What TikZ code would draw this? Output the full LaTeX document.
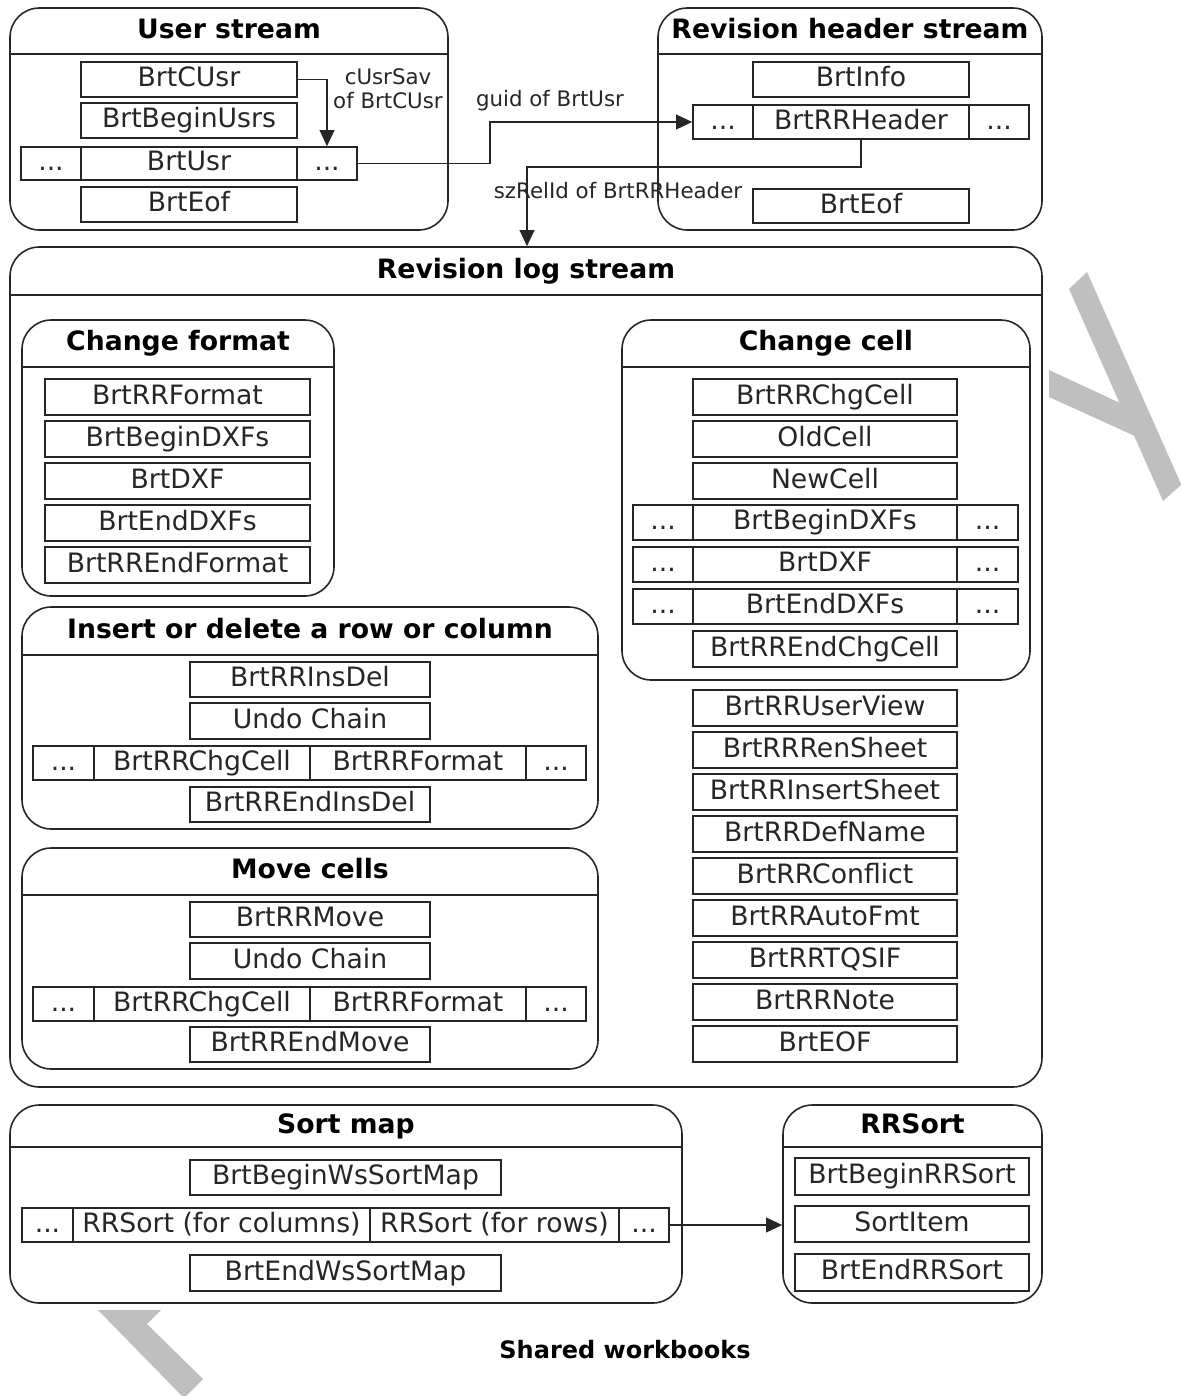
\documentclass[tikz,border=0pt]{standalone}
\usepackage{fontspec}
\setmainfont{DejaVu Sans}
\usetikzlibrary{arrows.meta}
\newcommand\mybox[6]{%
 \pgfmathsetmacro\mbw{(#4-#2)*0.75}%
 \pgfmathsetmacro\mbh{(#5-#3)*0.75}%
 \node[rec,minimum width=\mbw pt,minimum height=\mbh pt] (#1) at ({(#2+#4)/2},{(#3+#5)/2}) {#6};}
\newcommand\mycont[7]{%
 \pgfmathsetmacro\mbw{(#4-#2)*0.75}%
 \pgfmathsetmacro\mbh{(#5-#3)*0.75}%
 \node[cont,minimum width=\mbw pt,minimum height=\mbh pt] (#1) at ({(#2+#4)/2},{(#3+#5)/2}) {};
 \draw[hline] (#2,#6) -- (#4,#6);
 \node[ttl] (#1-t) at ({(#2+#4)/2},{(#3+#6)/2}) {#7};}
\begin{document}
\begin{tikzpicture}[x=0.75pt,y=-0.75pt,
 rec/.style={draw=black!85,line width=1.2pt,inner sep=0pt,font=\fontsize{20}{24}\selectfont,text=black!85,text height=14.5pt,text depth=4pt},
 cont/.style={draw=black!85,line width=1.2pt,rounded corners=22pt,inner sep=0pt},
 hline/.style={draw=black!85,line width=1.2pt},
 ttl/.style={font=\fontsize{20}{24}\selectfont\bfseries,inner sep=0pt,text height=14.5pt,text depth=4pt},
 lbl/.style={font=\fontsize{16}{18}\selectfont,inner sep=0pt,align=center,text=black!85},
 arr/.style={draw=black!85,line width=1.2pt,-{Triangle[length=12pt,width=11pt]}},
 wm/.style={fill=black!25,draw=none}]
\useasboundingbox (0,0) rectangle (1181,1396);

% User stream
\mycont{us}{10}{8}{448}{230}{54}{User stream}
\mybox{cusr}{81}{62}{297}{97}{BrtCUsr}
\mybox{bu}{81}{103}{297}{138}{BrtBeginUsrs}
\mybox{usrL}{21}{147}{81}{180}{...}
\mybox{usr}{81}{147}{297}{180}{BrtUsr}
\mybox{usrR}{297}{147}{357}{180}{...}
\mybox{ueof}{81}{187}{297}{222}{BrtEof}

% Revision header stream
\mycont{rh}{658}{8}{1042}{230}{54}{Revision header stream}
\mybox{info}{753}{62}{969}{97}{BrtInfo}
\mybox{hdrL}{693}{105}{753}{139}{...}
\mybox{hdr}{753}{105}{969}{139}{BrtRRHeader}
\mybox{hdrR}{969}{105}{1029}{139}{...}
\mybox{heof}{753}{189}{969}{223}{BrtEof}

% Revision log stream
\mycont{log}{10}{247}{1042}{1087}{295}{Revision log stream}

% Change format
\mycont{cf}{22}{320}{334}{596}{367}{Change format}
\mybox{cf1}{45}{379}{310}{415}{BrtRRFormat}
\mybox{cf2}{45}{421}{310}{457}{BrtBeginDXFs}
\mybox{cf3}{45}{463}{310}{499}{BrtDXF}
\mybox{cf4}{45}{505}{310}{541}{BrtEndDXFs}
\mybox{cf5}{45}{547}{310}{583}{BrtRREndFormat}

% Insert or delete
\mycont{id}{22}{607}{598}{829}{655}{Insert or delete a row or column}
\mybox{id1}{190}{662}{430}{697}{BrtRRInsDel}
\mybox{id2}{190}{703}{430}{739}{Undo Chain}
\mybox{id3a}{33}{746}{94}{780}{...}
\mybox{id3b}{94}{746}{310}{780}{BrtRRChgCell}
\mybox{id3c}{310}{746}{526}{780}{BrtRRFormat}
\mybox{id3d}{526}{746}{586}{780}{...}
\mybox{id4}{190}{787}{430}{822}{BrtRREndInsDel}

% Move cells
\mycont{mv}{22}{848}{598}{1069}{895}{Move cells}
\mybox{mv1}{190}{902}{430}{937}{BrtRRMove}
\mybox{mv2}{190}{943}{430}{979}{Undo Chain}
\mybox{mv3a}{33}{987}{94}{1021}{...}
\mybox{mv3b}{94}{987}{310}{1021}{BrtRRChgCell}
\mybox{mv3c}{310}{987}{526}{1021}{BrtRRFormat}
\mybox{mv3d}{526}{987}{586}{1021}{...}
\mybox{mv4}{190}{1027}{430}{1062}{BrtRREndMove}

% Change cell
\mycont{cc}{622}{320}{1030}{680}{367}{Change cell}
\mybox{cc1}{693}{379}{957}{415}{BrtRRChgCell}
\mybox{cc2}{693}{421}{957}{457}{OldCell}
\mybox{cc3}{693}{463}{957}{499}{NewCell}
\mybox{cc4a}{633}{505}{693}{540}{...}
\mybox{cc4b}{693}{505}{957}{540}{BrtBeginDXFs}
\mybox{cc4c}{957}{505}{1018}{540}{...}
\mybox{cc5a}{633}{547}{693}{582}{...}
\mybox{cc5b}{693}{547}{957}{582}{BrtDXF}
\mybox{cc5c}{957}{547}{1018}{582}{...}
\mybox{cc6a}{633}{589}{693}{624}{...}
\mybox{cc6b}{693}{589}{957}{624}{BrtEndDXFs}
\mybox{cc6c}{957}{589}{1018}{624}{...}
\mybox{cc7}{693}{631}{957}{667}{BrtRREndChgCell}

% Right list
\mybox{r1}{693}{690}{957}{726}{BrtRRUserView}
\mybox{r2}{693}{732}{957}{768}{BrtRRRenSheet}
\mybox{r3}{693}{774}{957}{810}{BrtRRInsertSheet}
\mybox{r4}{693}{816}{957}{852}{BrtRRDefName}
\mybox{r5}{693}{858}{957}{894}{BrtRRConflict}
\mybox{r6}{693}{900}{957}{936}{BrtRRAutoFmt}
\mybox{r7}{693}{942}{957}{978}{BrtRRTQSIF}
\mybox{r8}{693}{984}{957}{1020}{BrtRRNote}
\mybox{r9}{693}{1026}{957}{1062}{BrtEOF}

% Sort map
\mycont{sm}{10}{1105}{682}{1303}{1147}{Sort map}
\mybox{sm1}{190}{1160}{501}{1195}{BrtBeginWsSortMap}
\mybox{sm2a}{22}{1208}{73}{1242}{...}
\mybox{sm2b}{73}{1208}{370}{1242}{RRSort (for columns)}
\mybox{sm2c}{370}{1208}{619}{1242}{RRSort (for rows)}
\mybox{sm2d}{619}{1208}{669}{1242}{...}
\mybox{sm3}{190}{1255}{501}{1291}{BrtEndWsSortMap}

% RRSort
\mycont{rs}{783}{1105}{1042}{1303}{1147}{RRSort}
\mybox{rs1}{795}{1158}{1029}{1195}{BrtBeginRRSort}
\mybox{rs2}{795}{1206}{1029}{1242}{SortItem}
\mybox{rs3}{795}{1254}{1029}{1291}{BrtEndRRSort}

% connectors
\draw[arr] (cusr.east) -| (usrR.north);
\node[lbl] (l1) at (388,89) {cUsrSav\\of BrtCUsr};
\coordinate (g1) at (490,163);
\draw[arr] (usrR.east) -| (g1 |- hdrL.west) -- (hdrL.west);
\node[lbl] (l2) at (550,101) {guid of BrtUsr};
\coordinate (s1) at (527,167);
\draw[arr] (hdr.south) |- (s1) -- (s1 |- log.north);
\node[lbl] (l3) at (618,191) {szRelId of BrtRRHeader};
\draw[arr] (sm2d.east) -- (rs.west |- sm2d.east);

% caption
\node[font=\fontsize{18}{22}\selectfont\bfseries,inner sep=0pt] (cap) at (625,1350) {Shared workbooks};

% gray marks
\fill[wm] (1069,289) -- (1087,272) -- (1181,484) -- (1181,485) -- (1163,501) -- cycle;
\fill[wm] (1049,370) -- (1120,403) -- (1137,437) -- (1049,397) -- cycle;
\fill[wm] (98,1310) -- (161,1310) -- (147,1324) -- (203,1379) -- (186,1396) -- (182,1396) -- cycle;
\end{tikzpicture}
\end{document}
